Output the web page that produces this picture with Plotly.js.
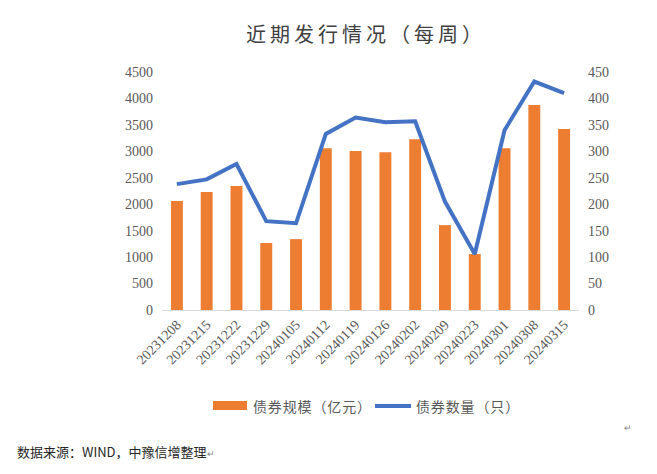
<!DOCTYPE html>
<html>
<head>
<meta charset="utf-8">
<script src="https://cdn.plot.ly/plotly-3.0.1.min.js"></script>
<style>html,body{margin:0;padding:0;background:#fff;}#chart{width:657px;height:474px;}</style>
</head>
<body>
<div id="chart"></div>
<script>
var categories = ["20231208","20231215","20231222","20231229","20240105","20240112","20240119","20240126","20240202","20240209","20240223","20240301","20240308","20240315"];
var bondScale = [2060, 2230, 2345, 1265, 1340, 3060, 3005, 2985, 3230, 1605, 1058, 3060, 3875, 3420];
var bondCount = [238, 247, 276, 168, 164, 333, 364, 355, 357, 205, 106, 340, 432, 410];
var leftTicks = [0,500,1000,1500,2000,2500,3000,3500,4000,4500];
var rightTicks = [0,50,100,150,200,250,300,350,400,450];
var seriesNames = ['债券规模（亿元）','债券数量（只）'];
var seriesColors = ['#ED7D31','#4472C4'];
var titleText = '近期发行情况（每周）';

var serif = "'Liberation Serif', 'Times New Roman', serif";
var cjk = "'Noto Sans CJK SC', sans-serif";
var grey = "#595959";

// plot-area geometry helpers (pixels -> paper coords)
var L = 162, R = 579, T = 72, B = 310;
function px(x){ return (x - L) / (R - L); }
function py(y){ return (B - y) / (B - T); }
function spread(s, sp){ return s.split('').join(sp); }

var traces = [
  {type:'bar', name:seriesNames[0], x:categories, y:bondScale, marker:{color:seriesColors[0]}, width:0.4, yaxis:'y', showlegend:false},
  {type:'scatter', mode:'lines', name:seriesNames[1], x:categories, y:bondCount, line:{color:seriesColors[1], width:4}, yaxis:'y2', showlegend:false}
];

var layout = {
  width:657, height:474,
  margin:{l:L, r:657-R, t:T, b:474-B},
  paper_bgcolor:'#fff', plot_bgcolor:'#fff',
  showlegend:false,
  title:{text:spread(titleText,'\u2009'), font:{family:cjk, size:20, color:'#404040'}, x:364/657, xanchor:'center', y:1-35/474, yanchor:'middle'},
  xaxis:{type:'category', tickangle:-45, tickfont:{family:serif, size:14, color:grey}, showgrid:false, showline:true, linecolor:'#D9D9D9', linewidth:1, zeroline:false, ticks:''},
  yaxis:{range:[0,4500], tickvals:leftTicks, ticktext:leftTicks.map(String), tickfont:{family:serif, size:14, color:grey}, showgrid:false, zeroline:false, showline:false, ticks:'', ticklabelstandoff:8},
  yaxis2:{range:[0,450], overlaying:'y', side:'right', tickvals:rightTicks, ticktext:rightTicks.map(String), tickfont:{family:serif, size:14, color:grey}, showgrid:false, zeroline:false, showline:false, ticks:'', ticklabelstandoff:8},
  bargap:0.6,
  shapes:[
    {type:'rect', xref:'paper', yref:'paper', x0:px(213), x1:px(247), y0:py(410), y1:py(401), fillcolor:seriesColors[0], line:{width:0}},
    {type:'line', xref:'paper', yref:'paper', x0:px(375), x1:px(411), y0:py(406), y1:py(406), line:{color:seriesColors[1], width:4}}
  ],
  annotations:[
    {text:spread(seriesNames[0],'\u200A'), xref:'paper', yref:'paper', x:px(251), xanchor:'left', y:py(406), yanchor:'middle', showarrow:false, font:{family:cjk, size:14, color:grey}},
    {text:spread(seriesNames[1],'\u200A'), xref:'paper', yref:'paper', x:px(414), xanchor:'left', y:py(406), yanchor:'middle', showarrow:false, font:{family:cjk, size:14, color:grey}},
    {text:'数据来源：WIND，中豫信增整理<span style="font-size:9px;color:#7f7f7f">↵</span>', xref:'paper', yref:'paper', x:px(15), xanchor:'left', y:py(451), yanchor:'middle', showarrow:false, font:{family:cjk, size:13, color:'#262626'}},
    {text:'↵', xref:'paper', yref:'paper', x:px(628), y:py(427), xanchor:'center', yanchor:'middle', showarrow:false, font:{family:cjk, size:9, color:'#7f7f7f'}}
  ]
};

Plotly.newPlot('chart', traces, layout, {displayModeBar:false, staticPlot:true});
</script>
</body>
</html>
